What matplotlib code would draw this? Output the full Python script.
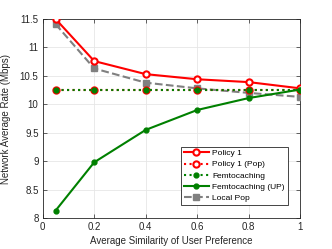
import numpy as np
import matplotlib
matplotlib.use("Agg")
import matplotlib.pyplot as plt
from matplotlib.ticker import MultipleLocator

# data
similarity = [0.05, 0.2, 0.4, 0.6, 0.8, 1.0]
policy1 = [11.50, 10.76, 10.53, 10.44, 10.39, 10.28]
policy1_pop = [10.26, 10.26, 10.26, 10.26, 10.26, 10.26]
femto = [10.26, 10.26, 10.26, 10.26, 10.26, 10.26]
femto_up = [8.13, 8.98, 9.55, 9.90, 10.11, 10.26]
local_pop = [11.41, 10.63, 10.38, 10.28, 10.20, 10.13]

plt.rcParams["font.family"] = ["Liberation Sans", "DejaVu Sans"]

fig = plt.figure(figsize=(3.32, 2.49), dpi=100)
ax = fig.add_axes([42.7 / 332, 1 - 218 / 249, (300.3 - 42.7) / 332, (218 - 19) / 249])

red = "#ff0000"
green = "#008000"
gray = "#808080"

ax.plot(similarity, policy1, "-", color=red, lw=1.5, marker="o", ms=4.5,
        mfc="white", mec=red, mew=1.5, label="Policy 1", zorder=5)
ax.plot(similarity, policy1_pop, ":", color=red, lw=1.5, marker="o", ms=4.5,
        mfc="white", mec=red, mew=1.5, label="Policy 1 (Pop)", zorder=4)
ax.plot(similarity, femto, ":", color=green, lw=1.5, marker="o", ms=3.5,
        mfc=green, mec=green, label="Femtocaching", zorder=6)
ax.plot(similarity, femto_up, "-", color=green, lw=1.5, marker="o", ms=3.5,
        mfc=green, mec=green, label="Femtocaching (UP)", zorder=6)
ax.plot(similarity, local_pop, "--", color=gray, lw=1.5, marker="s", ms=4,
        mfc=gray, mec=gray, label="Local Pop", zorder=3)

ax.set_xlim(0, 1)
ax.set_ylim(8, 11.5)
ax.set_xticks([0, 0.2, 0.4, 0.6, 0.8, 1])
ax.set_xticklabels(["0", "0.2", "0.4", "0.6", "0.8", "1"])
ax.set_yticks([8, 8.5, 9, 9.5, 10, 10.5, 11, 11.5])
ax.set_yticklabels(["8", "8.5", "9", "9.5", "10", "10.5", "11", "11.5"])
ax.tick_params(direction="in", length=3, width=0.5, labelsize=7,
               colors="#262626", top=True, right=True, pad=3)
ax.grid(True, color="#e6e6e6", lw=0.6)
ax.set_axisbelow(True)
for s in ax.spines.values():
    s.set_linewidth(0.6)
    s.set_color("#262626")

ax.set_xlabel("Average Similarity of User Preference", fontsize=7, color="#262626", labelpad=3)
ax.set_ylabel("Network Average Rate (Mbps)", fontsize=7, color="#262626", labelpad=6)

leg = ax.legend(loc="lower right", fontsize=6, frameon=True, fancybox=False,
                edgecolor="#262626", framealpha=1, handlelength=3,
                borderpad=0.35, labelspacing=0.4, handletextpad=0.4,
                bbox_to_anchor=(0.967, 0.045))
leg.get_frame().set_linewidth(0.6)

fig.savefig("out.png", dpi=100)
